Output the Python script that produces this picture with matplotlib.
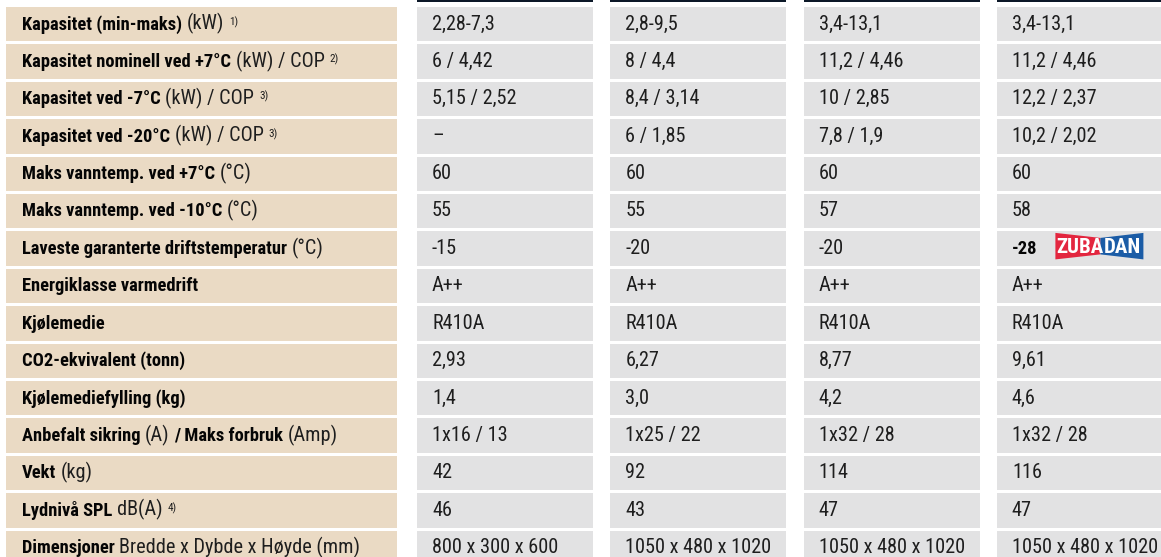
import matplotlib.pyplot as plt
from matplotlib import font_manager
from matplotlib.patches import Rectangle, Polygon

# row labels: (text, style) runs, b = bold, r = regular, s = superscript
labels = [
    [("Kapasitet (min-maks)", "b"), ("(kW)", "r"), ("1)", "s")],
    [("Kapasitet nominell ved +7°C", "b"), ("(kW) / COP", "r"), ("2)", "s")],
    [("Kapasitet ved -7°C", "b"), ("(kW) / COP", "r"), ("3)", "s")],
    [("Kapasitet ved -20°C", "b"), ("(kW) / COP", "r"), ("3)", "s")],
    [("Maks vanntemp. ved +7°C", "b"), ("(°C)", "r")],
    [("Maks vanntemp. ved -10°C", "b"), ("(°C)", "r")],
    [("Laveste garanterte driftstemperatur", "b"), ("(°C)", "r")],
    [("Energiklasse varmedrift", "b")],
    [("Kjølemedie", "b")],
    [("CO2-ekvivalent (tonn)", "b")],
    [("Kjølemediefylling (kg)", "b")],
    [("Anbefalt sikring", "b"), ("(A)", "r"), ("/ Maks forbruk", "b"), ("(Amp)", "r")],
    [("Vekt", "b"), ("(kg)", "r")],
    [("Lydnivå SPL", "b"), ("dB(A)", "r"), ("4)", "s")],
    [("Dimensjoner", "b"), ("Bredde x Dybde x Høyde (mm)", "r")],
]

col1 = ["2,28-7,3", "6 / 4,42", "5,15 / 2,52", "–", "60", "55", "-15", "A++", "R410A",
        "2,93", "1,4", "1x16 / 13", "42", "46", "800 x 300 x 600"]
col2 = ["2,8-9,5", "8 / 4,4", "8,4 / 3,14", "6 / 1,85", "60", "55", "-20", "A++", "R410A",
        "6,27", "3,0", "1x25 / 22", "92", "43", "1050 x 480 x 1020"]
col3 = ["3,4-13,1", "11,2 / 4,46", "10 / 2,85", "7,8 / 1,9", "60", "57", "-20", "A++", "R410A",
        "8,77", "4,2", "1x32 / 28", "114", "47", "1050 x 480 x 1020"]
col4 = ["3,4-13,1", "11,2 / 4,46", "12,2 / 2,37", "10,2 / 2,02", "60", "58", "-28", "A++", "R410A",
        "9,61", "4,6", "1x32 / 28", "116", "47", "1050 x 480 x 1020"]
columns = [col1, col2, col3, col4]
bold_cells = {(3, 6)}  # the -28 with the logo
logo_parts = ["ZUBA", "DAN"]

names = {f.name for f in font_manager.fontManager.ttflist}
font = "DejaVu Sans"
for cand in ["Liberation Sans Narrow", "Roboto Condensed", "Open Sans Condensed", "Liberation Sans"]:
    if cand in names:
        font = cand
        break

W, H = 1161, 557
fig = plt.figure(figsize=(W / 100, H / 100), dpi=100)
ax = fig.add_axes([0, 0, 1, 1])
ax.set_xlim(0, W)
ax.set_ylim(H, 0)
ax.axis("off")
renderer = fig.canvas.get_renderer()

tan = "#eadac4"
grey = "#e2e2e3"
dark = "#0c1828"
row_top, row_pitch, row_h = 7, 37.4, 34.3
lab_x0, lab_x1 = 6, 397
col_x0, col_pitch, col_w = 417, 193.3, 176
pad = 15
base_off = 22.5

styles = {
    "b": dict(fontsize=13.3, fontweight="heavy", color="#050505"),
    "r": dict(fontsize=14.6, fontweight="normal", color="#1e1e1e"),
    "s": dict(fontsize=8, fontweight="normal", color="#1e1e1e"),
}


def draw_runs(x, y, runs):
    for i, (txt, st) in enumerate(runs):
        if i > 0:
            x += 5 if st == "s" else 4.5
        dy = -4.5 if st == "s" else 0
        t = ax.text(x, y + dy, txt, family=[font, "DejaVu Sans"], va="baseline", ha="left", **styles[st])
        x += t.get_window_extent(renderer).width
    return x


for i, runs in enumerate(labels):
    y0 = row_top + i * row_pitch
    ax.add_patch(Rectangle((lab_x0, y0), lab_x1 - lab_x0, row_h, color=tan, lw=0))
    draw_runs(lab_x0 + 16, y0 + base_off, runs)

for j, col in enumerate(columns):
    cx = col_x0 + j * col_pitch
    ax.add_patch(Rectangle((cx, 0), col_w, 2.2, color=dark, lw=0))
    for i, val in enumerate(col):
        y0 = row_top + i * row_pitch
        ax.add_patch(Rectangle((cx, y0), col_w, row_h, color=grey, lw=0))
        st = "b" if (j, i) in bold_cells else "r"
        xe = draw_runs(cx + pad, y0 + base_off, [(val, st)])
        if (j, i) in bold_cells:
            # ZUBADAN logo
            lx0 = xe + 18
            lx1 = lx0 + 88
            mid = lx0 + 45
            ly0, ly1 = y0 + 1.5, y0 + 28
            ax.add_patch(Polygon([(lx0, ly0), (mid, ly0 + 5), (mid, ly1 - 5), (lx0, ly1)],
                                 closed=True, color="#e3263f", lw=0))
            ax.add_patch(Polygon([(mid, ly0 + 5), (lx1, ly0), (lx1, ly1), (mid, ly1 - 5)],
                                 closed=True, color="#1b5ca6", lw=0))
            ym = (ly0 + ly1) / 2
            ax.text(mid + 3, ym + 1, logo_parts[0], family=[font, "DejaVu Sans"], fontsize=15,
                    fontweight="bold", color="white", ha="right", va="center")
            ax.text(mid + 3, ym + 1, logo_parts[1], family=[font, "DejaVu Sans"], fontsize=15,
                    fontweight="bold", color="white", ha="left", va="center")

fig.savefig("out.png", dpi=100, facecolor="white")
